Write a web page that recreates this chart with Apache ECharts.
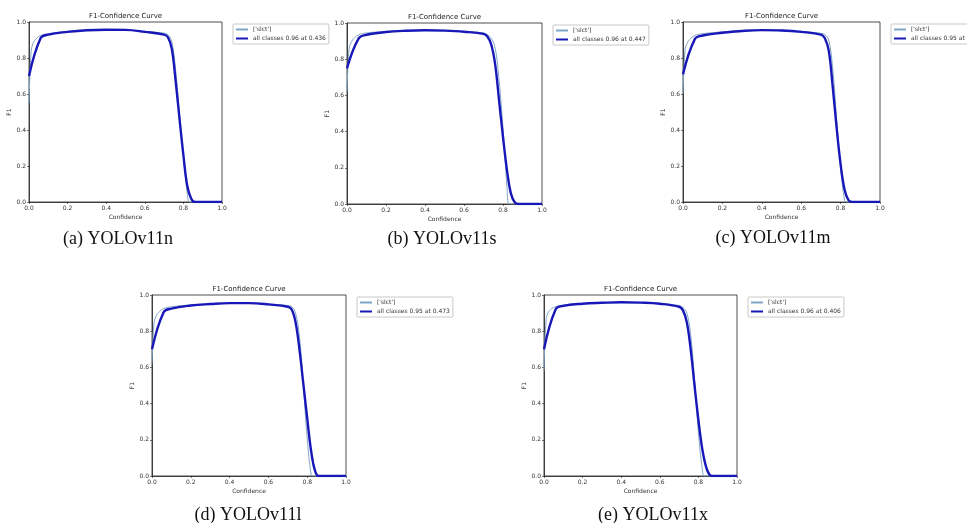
<!DOCTYPE html>
<html>
<head>
<meta charset="utf-8">
<script src="https://cdn.jsdelivr.net/npm/echarts@6/dist/echarts.min.js"></script>
<style>
  html, body { margin: 0; padding: 0; background: #fff; }
  #main { width: 967px; height: 523px; }
</style>
</head>
<body>
<div id="main"></div>
<script>
// sample positions along the confidence axis
var thickX = [0, 0.06, 0.1, 0.2, 0.3, 0.4, 0.5, 0.6, 0.7, 0.72, 0.74, 0.76, 0.78, 0.80, 0.82, 0.84, 0.86, 0.88, 1.0];
var thinX = [0, 0.01, 0.02, 0.04, 0.06, 0.1, 0.2, 0.3, 0.4, 0.5, 0.6, 0.7, 0.72, 0.74, 0.76, 0.78, 0.80, 0.82, 0.83, 0.84, 1.0];

var captions = ['(a) YOLOv11n', '(b) YOLOv11s', '(c) YOLOv11m', '(d) YOLOv11l', '(e) YOLOv11x'];
var classLabel = "['slct']";
var allLabels = ['all classes 0.96 at 0.436', 'all classes 0.96 at 0.447', 'all classes 0.95 at 0.454',
                 'all classes 0.95 at 0.473', 'all classes 0.96 at 0.406'];

// "all classes" curve (thick)
var allN = [0.70, 0.91, 0.93, 0.945, 0.954, 0.957, 0.956, 0.945, 0.93, 0.915, 0.85, 0.67, 0.46, 0.26, 0.09, 0.02, 0, 0, 0];
var allS = [0.75, 0.915, 0.935, 0.95, 0.957, 0.96, 0.958, 0.952, 0.94, 0.925, 0.88, 0.77, 0.57, 0.37, 0.19, 0.06, 0.01, 0, 0];
var allM = [0.71, 0.905, 0.925, 0.94, 0.95, 0.955, 0.953, 0.945, 0.93, 0.91, 0.84, 0.64, 0.41, 0.21, 0.07, 0.01, 0, 0, 0];
var allL = [0.70, 0.905, 0.925, 0.942, 0.95, 0.955, 0.955, 0.948, 0.935, 0.92, 0.85, 0.70, 0.51, 0.32, 0.14, 0.03, 0, 0, 0];
var allX = [0.70, 0.92, 0.94, 0.952, 0.957, 0.96, 0.958, 0.952, 0.935, 0.915, 0.85, 0.70, 0.50, 0.31, 0.15, 0.05, 0.005, 0, 0];

// single class curve (thin)
var clsN = [0.55, 0.82, 0.88, 0.91, 0.925, 0.935, 0.948, 0.955, 0.958, 0.957, 0.948, 0.938, 0.93, 0.89, 0.73, 0.49, 0.25, 0.05, 0, 0, 0];
var clsS = [0.62, 0.85, 0.89, 0.92, 0.935, 0.945, 0.953, 0.958, 0.96, 0.959, 0.953, 0.945, 0.935, 0.915, 0.86, 0.68, 0.42, 0.10, 0, 0, 0];
var clsM = [0.60, 0.84, 0.88, 0.91, 0.925, 0.935, 0.945, 0.952, 0.955, 0.954, 0.948, 0.937, 0.93, 0.90, 0.74, 0.46, 0.19, 0.01, 0, 0, 0];
var clsL = [0.62, 0.84, 0.88, 0.91, 0.925, 0.935, 0.945, 0.952, 0.955, 0.955, 0.95, 0.942, 0.935, 0.90, 0.77, 0.50, 0.21, 0.01, 0, 0, 0];
var clsX = [0.58, 0.85, 0.90, 0.925, 0.935, 0.945, 0.952, 0.956, 0.958, 0.957, 0.952, 0.942, 0.93, 0.90, 0.78, 0.53, 0.24, 0.04, 0, 0, 0];

var allData = [allN, allS, allM, allL, allX];
var clsData = [clsN, clsS, clsM, clsL, clsX];

// plot frames: left, top, width, height, caption centre x, caption centre y
var frames = [
  [29, 22, 193, 180, 118, 239],
  [347, 23, 195, 181, 442, 239],
  [683, 22, 197, 180, 773, 238],
  [152, 295, 194, 181, 248, 515],
  [544, 295, 193, 181, 653, 515]
];

var myChart = echarts.init(document.getElementById('main'));
var font = 'DejaVu Sans';
var thinColor = '#7fa5c6';
var thickColor = '#1818b8';

function pairs(xs, ys) {
  return xs.map(function (x, i) { return [x, ys[i]]; });
}

var grids = [], xAxes = [], yAxes = [], series = [], legends = [], graphics = [];

frames.forEach(function (f, i) {
  grids.push({
    left: f[0], top: f[1], width: f[2], height: f[3],
    show: true, borderColor: '#222', borderWidth: 0.8, backgroundColor: '#fff'
  });
  var axisCommon = {
    gridIndex: i, type: 'value', min: 0, max: 1, interval: 0.2,
    nameLocation: 'middle',
    nameTextStyle: { fontFamily: font, fontSize: 6, color: '#333' },
    axisLine: { show: true, lineStyle: { color: '#222', width: 0.8 } },
    axisTick: { show: true, length: 2, lineStyle: { color: '#222', width: 0.6 } },
    axisLabel: { fontFamily: font, fontSize: 6, color: '#333', margin: 3,
                 formatter: function (v) { return v.toFixed(1); } },
    splitLine: { show: false }
  };
  xAxes.push(Object.assign({}, axisCommon, { name: 'Confidence', nameGap: 12 }));
  yAxes.push(Object.assign({}, axisCommon, { name: 'F1', nameGap: 16 }));

  series.push({
    name: classLabel, type: 'line', xAxisIndex: i, yAxisIndex: i,
    data: pairs(thinX, clsData[i]), symbol: 'none', smooth: 0.4,
    lineStyle: { color: thinColor, width: 1 }, itemStyle: { color: thinColor }, z: 2
  });
  series.push({
    name: allLabels[i], type: 'line', xAxisIndex: i, yAxisIndex: i,
    data: pairs(thickX, allData[i]), symbol: 'none', smooth: 0.4,
    lineStyle: { color: thickColor, width: 2.4 }, itemStyle: { color: thickColor }, z: 3
  });

  legends.push({
    data: [
      { name: classLabel, icon: 'rect', itemStyle: { color: thinColor } },
      { name: allLabels[i], icon: 'rect', itemStyle: { color: thickColor } }
    ],
    orient: 'vertical',
    left: f[0] + f[2] + 11, top: f[1] + 2,
    itemWidth: 12, itemHeight: 2, itemGap: 2,
    padding: [2, 3, 2, 3], borderColor: '#c8c8c8', borderWidth: 1, borderRadius: 1,
    selectedMode: false,
    textStyle: { fontFamily: font, fontSize: 6, lineHeight: 7, color: '#333' }
  });

  // plot title above the frame
  graphics.push({
    type: 'text', x: f[0] + f[2] / 2, y: f[1] - 2,
    style: { text: 'F1-Confidence Curve', fontFamily: font, fontSize: 7, fill: '#222',
             textAlign: 'center', textVerticalAlign: 'bottom' }
  });
  // caption below the plot
  graphics.push({
    type: 'text', x: f[4], y: f[5],
    style: { text: captions[i], fontFamily: 'Liberation Serif', fontSize: 18, fill: '#111',
             textAlign: 'center', textVerticalAlign: 'middle' }
  });
});

var option = {
  backgroundColor: '#fff',
  animation: false,
  grid: grids,
  xAxis: xAxes,
  yAxis: yAxes,
  legend: legends,
  series: series,
  graphic: graphics
};

myChart.setOption(option);
</script>
</body>
</html>
